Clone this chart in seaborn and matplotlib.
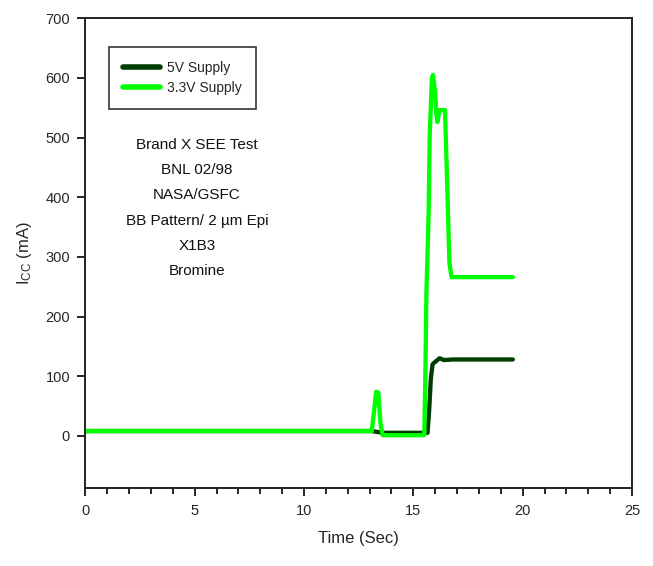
import matplotlib
matplotlib.use("Agg")
import matplotlib.pyplot as plt
from matplotlib.ticker import MultipleLocator
import pandas as pd
import seaborn as sns

# Supply current traces during the heavy-ion exposure
t_5v = [0.0, 13.1, 13.6, 15.65, 15.72, 15.8, 15.88, 16.0, 16.2, 16.4, 16.8, 19.55]
i_5v = [8, 8, 5, 5, 40, 95, 120, 124, 130, 127, 128, 128]

t_33v = [0.0, 13.1, 13.2, 13.3, 13.4, 13.5, 13.6, 15.5, 15.55, 15.6, 15.7,
         15.75, 15.85, 15.9, 16.0, 16.05, 16.1, 16.2, 16.45, 16.55, 16.65,
         16.75, 19.55]
i_33v = [8, 8, 40, 74, 72, 20, 1, 1, 100, 242, 373,
         504, 600, 605, 575, 540, 526, 546, 546, 420, 290,
         266, 266]

series_names = ["5V Supply", "3.3V Supply"]
series_colors = ["#003d00", "#00ff00"]

notes = ["Brand X SEE Test", "BNL 02/98", "NASA/GSFC",
         "BB Pattern/ 2 \u00b5m Epi", "X1B3", "Bromine"]

x_ticks = [0, 5, 10, 15, 20, 25]
y_ticks = [0, 100, 200, 300, 400, 500, 600, 700]

sns.set_theme(style="white")
plt.rcParams["font.family"] = ["Liberation Sans", "DejaVu Sans"]
plt.rcParams["mathtext.fontset"] = "custom"
plt.rcParams["mathtext.rm"] = "Liberation Sans"
plt.rcParams["mathtext.it"] = "Liberation Sans:italic"

df = pd.concat([
    pd.DataFrame({"Time": t_5v, "Icc": i_5v, "Supply": series_names[0]}),
    pd.DataFrame({"Time": t_33v, "Icc": i_33v, "Supply": series_names[1]}),
], ignore_index=True)

W, H = 653, 566
fig = plt.figure(figsize=(W / 100, H / 100), dpi=100)
left, right, top, bottom = 85.3, 632.0, 18.3, 488.3
ax = fig.add_axes([left / W, 1 - bottom / H, (right - left) / W, (bottom - top) / H])

sns.lineplot(data=df, x="Time", y="Icc", hue="Supply",
             hue_order=series_names, palette=series_colors,
             estimator=None, sort=False, linewidth=3.1, ax=ax)

ax.set_xlim(0, 25)
ax.set_ylim(-88, 700)
ax.set_xticks(x_ticks)
ax.set_yticks(y_ticks)
ax.xaxis.set_minor_locator(MultipleLocator(1))
ax.tick_params(axis="both", which="major", direction="out", length=6,
               width=1.2, color="black", labelsize=10.5, pad=5,
               bottom=True, left=True)
ax.tick_params(axis="x", which="minor", direction="out", length=4,
               width=1.2, color="black", bottom=True)
for s in ax.spines.values():
    s.set_visible(True)
    s.set_color("#222222")
    s.set_linewidth(1.4)

ax.set_xlabel("Time (Sec)", fontsize=12, labelpad=10)
ax.set_ylabel(r"I$_{\mathrm{CC}}$ (mA)", fontsize=12, labelpad=8)

handles, labels = ax.get_legend_handles_labels()
leg = ax.legend(handles, labels, loc="upper left",
                bbox_to_anchor=((109 - left) / (right - left), (bottom - 47) / (bottom - top)),
                borderaxespad=0, frameon=True, fancybox=False, fontsize=10,
                handlelength=2.7, handletextpad=0.5, labelspacing=0.45,
                borderpad=1.0)
leg.get_frame().set_edgecolor("black")
leg.get_frame().set_linewidth(1.2)
for h in leg.get_lines():
    h.set_linewidth(4)

for i, line in enumerate(notes):
    yc = 145 + 25.2 * i
    ax.text((197 - left) / (right - left), (bottom - yc) / (bottom - top), line,
            transform=ax.transAxes, ha="center", va="center", fontsize=11,
            color="#111111")

fig.savefig("out.png", dpi=100)
